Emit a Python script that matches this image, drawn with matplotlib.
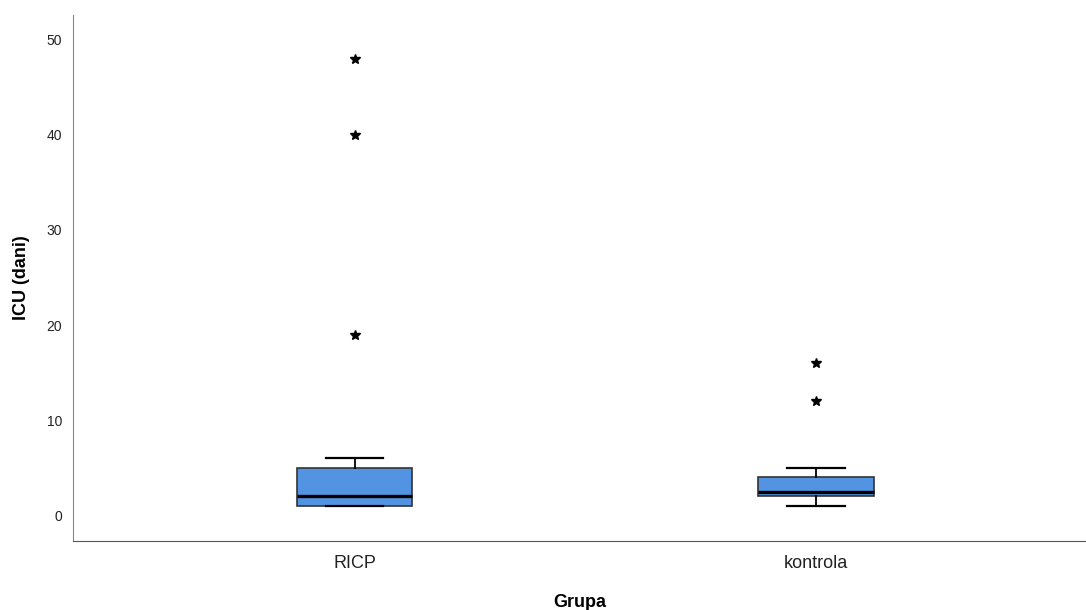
import matplotlib
matplotlib.use("Agg")
import matplotlib.pyplot as plt

plt.rcParams["font.family"] = ["Liberation Sans", "DejaVu Sans"]

# box statistics (ICU days)
groups = ["RICP", "kontrola"]
q1 = [1, 2]
median = [2, 2.5]
q3 = [5, 4]
whisk_lo = [1, 1]
whisk_hi = [6, 5]
outliers = [[19, 40, 48], [12, 16]]

stats = [
    dict(label=g, q1=a, med=m, q3=b, whislo=lo, whishi=hi, fliers=f)
    for g, a, m, b, lo, hi, f in zip(groups, q1, median, q3, whisk_lo, whisk_hi, outliers)
]

fig = plt.figure(figsize=(10.86, 6.10), dpi=100)
ax = fig.add_axes([73 / 1086, 1 - 541 / 610, 1 - 73 / 1086, (541 - 15) / 610])

ax.bxp(
    stats,
    positions=[1, 2],
    widths=0.25,
    patch_artist=True,
    boxprops=dict(facecolor="#5294e2", edgecolor="#333333", linewidth=1.2),
    medianprops=dict(color="black", linewidth=2.4),
    whiskerprops=dict(color="black", linewidth=1.3),
    capprops=dict(color="black", linewidth=1.6),
    capwidths=0.125,
    flierprops=dict(marker="*", markersize=7, markerfacecolor="black",
                    markeredgecolor="black", linestyle="none"),
)

ax.set_xlim(0.39, 2.585)
ax.set_ylim(-2.7, 52.6)
ax.set_yticks([0, 10, 20, 30, 40, 50])
ax.tick_params(axis="y", length=0, labelsize=10, pad=8)
ax.tick_params(axis="x", length=0, labelsize=13, pad=10)
for t in ax.get_yticklabels() + ax.get_xticklabels():
    t.set_color("#222222")

ax.spines["top"].set_visible(False)
ax.spines["right"].set_visible(False)
ax.spines["left"].set_color("#888888")
ax.spines["bottom"].set_color("#555555")

ax.set_ylabel("ICU (dani)", fontsize=13, fontweight="bold", labelpad=12)
ax.set_xlabel("Grupa", fontsize=13, fontweight="bold", labelpad=16)

fig.savefig("out.png", dpi=100)
